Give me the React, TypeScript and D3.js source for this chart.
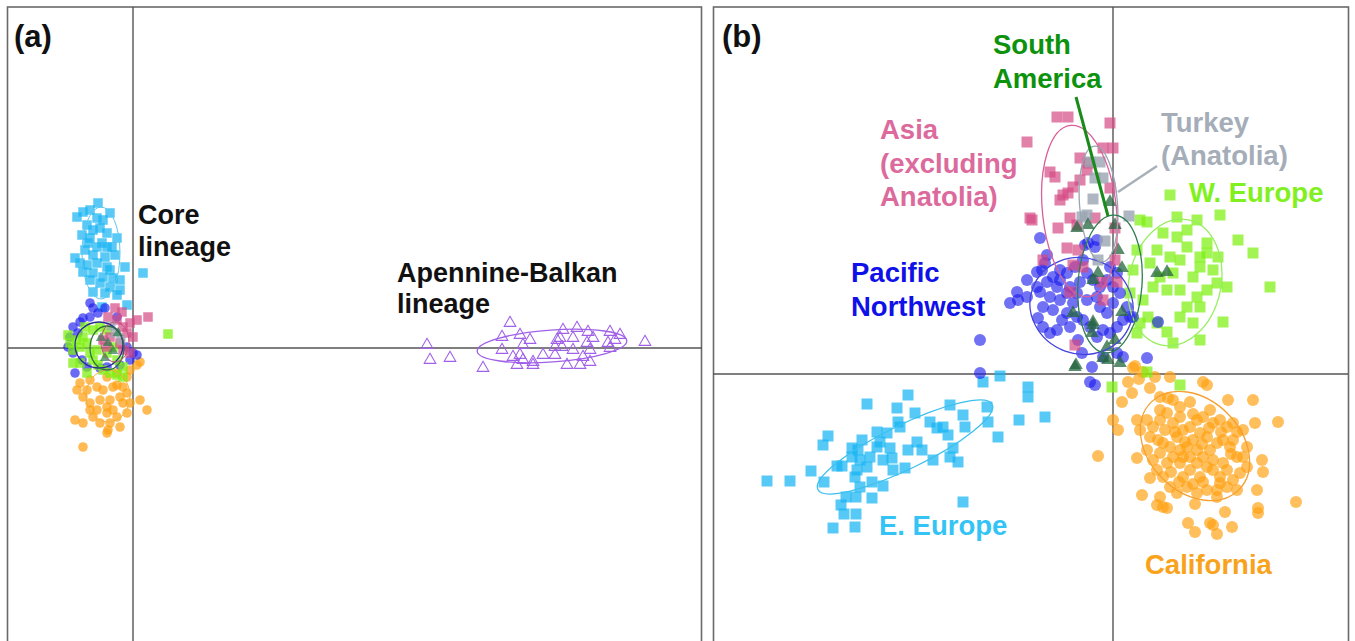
import React from 'react';
import * as d3 from 'd3';

const W = 1355;
const H = 641;
const FONT = '"Liberation Sans", Arial, sans-serif';

// ---- panel (b): scores for each region (PC1, PC2) ----
const eEurope = [
  [-34.6, -10.7], [-32.3, -10.7], [-30.2, -9.7], [-28.9, -10.8], [-28.5, -6.2], [-29.0, -7.1],
  [-27.6, -9.2], [-27.1, -9.2], [-26.7, -12.3], [-27.2, -13.1], [-26.9, -14.0], [-25.7, -14.0],
  [-28.0, -15.4], [-25.8, -15.3], [-25.7, -12.3], [-24.6, -3.0], [-25.1, -6.6], [-26.1, -7.4],
  [-25.5, -7.6], [-25.3, -8.6], [-25.6, -9.6], [-25.8, -10.3], [-25.3, -11.3], [-24.1, -10.8],
  [-24.1, -12.4], [-23.0, -11.2], [-23.6, -5.8], [-23.3, -6.8], [-22.6, -5.9], [-22.3, -7.4],
  [-23.0, -8.6], [-22.1, -8.4], [-22.0, -9.6], [-20.8, -9.4], [-21.5, -4.8], [-21.3, -5.3],
  [-20.5, -2.1], [-21.6, -3.4], [-19.8, -3.9], [-20.5, -7.6], [-19.6, -6.8], [-19.1, -7.6],
  [-18.0, -8.6], [-18.3, -4.8], [-17.6, -5.4], [-17.0, -5.3], [-16.5, -6.1], [-16.3, -3.1],
  [-15.0, -4.1], [-14.8, -5.3], [-16.0, -7.4], [-15.5, -8.8], [-16.3, -8.3], [-15.0, -12.8],
  [-12.6, -3.3], [-12.5, -4.8], [-11.5, -6.3], [-11.3, -0.2], [-13.0, -0.8], [-9.4, -4.6],
  [-8.5, -1.3], [-8.5, -2.3], [-24.6, -9.3], [-23.6, -7.3], [-24.3, -8.3], [-26.1, -8.3],
  [-6.8, -4.3],
];

const california = [
  [2.2, 0.8], [5.7, -0.3], [9.0, -0.8], [9.4, -1.1], [0.0, -4.6], [0.5, -5.6], [-1.5, -8.2],
  [0.9, -2.8], [2.4, -4.6], [1.9, -1.9], [3.7, -1.4], [4.7, -2.3], [7.7, -2.8], [11.5, -2.6],
  [14.0, -2.6], [16.5, -4.8], [14.2, -4.9], [14.9, -8.6], [15.0, -9.8], [14.4, -11.6],
  [14.5, -13.4], [14.5, -13.9], [18.3, -12.8], [11.9, -15.3], [11.2, -13.8], [8.2, -13.0],
  [7.5, -14.9], [8.2, -15.8], [10.0, -15.1], [10.4, -16.0], [9.7, -14.9], [5.0, -13.3],
  [4.4, -13.1], [2.9, -12.1], [3.7, -10.4], [2.4, -8.4], [3.4, -7.6], [4.7, -12.3], [5.4, -13.4],
  [3.4, -4.6], [4.0, -5.3], [4.7, -4.6], [5.4, -3.9], [5.2, -5.6], [4.5, -6.6], [6.0, -4.9],
  [6.7, -4.3], [7.0, -5.6], [6.4, -6.3], [7.7, -5.3], [8.4, -4.6], [9.0, -4.3], [9.7, -3.6],
  [10.0, -4.9], [10.7, -4.6], [11.4, -5.3], [12.0, -4.9], [12.4, -5.8], [13.0, -5.6], [9.4, -6.3],
  [8.7, -5.9], [8.0, -6.6], [7.4, -7.3], [6.7, -7.6], [6.0, -8.3], [5.4, -8.9], [4.7, -7.9],
  [4.0, -8.6], [4.4, -9.6], [5.0, -10.3], [5.7, -11.3], [6.4, -11.9], [7.0, -10.3], [7.7, -9.6],
  [8.4, -8.9], [9.0, -8.3], [9.7, -7.6], [10.4, -6.9], [11.0, -6.6], [11.7, -7.3], [12.4, -8.3],
  [13.0, -8.3], [13.4, -9.3], [12.7, -9.9], [12.0, -10.6], [11.4, -11.3], [12.4, -11.6],
  [10.7, -10.3], [10.0, -9.6], [9.4, -9.3], [8.7, -10.3], [8.0, -11.0], [7.4, -11.3], [8.4, -11.9],
  [9.4, -11.6], [10.4, -11.6], [10.7, -10.9], [6.7, -8.9], [7.0, -8.3], [5.7, -7.3], [5.0, -6.9],
  [7.7, -8.3], [8.4, -7.6], [10.0, -8.6], [11.0, -8.9], [11.4, -9.6], [3.7, -6.3], [2.7, -5.6],
  [10.4, -12.3], [6.7, -3.3], [6.0, -2.6], [5.5, -2.4], [4.7, -3.6], [12.0, -6.6], [13.4, -7.3],
  [2.0, 0.6], [3.0, 0.2], [4.2, -0.3], [2.6, -0.5], [1.5, -0.8],
  [6.2, -5.8], [8.0, -4.0], [9.6, -5.4], [7.2, -6.8], [5.8, -9.8], [9.0, -10.8], [11.8, -8.0],
  [6.6, -10.8], [10.8, -5.8], [8.9, -7.0],
];

const wEurope = [
  [5.7, 17.9], [10.7, 15.9], [12.5, 13.4], [14.0, 12.1], [15.7, 8.7], [11.0, 5.2], [8.7, 3.4],
  [6.0, 3.1], [2.7, 15.4], [3.4, 15.2], [2.4, 12.4], [2.0, 10.4], [1.7, 8.1], [3.0, 7.4],
  [3.5, 5.7], [4.4, 5.1], [5.4, 4.2], [6.7, 5.7], [7.4, 6.7], [8.4, 7.7], [9.4, 8.4], [10.4, 9.1],
  [10.0, 10.4], [8.7, 11.7], [7.4, 12.7], [6.4, 13.7], [5.0, 14.1], [4.4, 12.4], [3.7, 11.1],
  [5.7, 11.7], [6.7, 11.4], [6.0, 10.1], [4.7, 9.7], [4.0, 8.7], [5.4, 8.4], [6.7, 8.4],
  [8.0, 9.7], [8.7, 10.7], [9.4, 12.1], [8.4, 15.4], [6.4, 15.7], [7.4, 14.4], [9.4, 13.1],
  [10.5, 11.7], [11.4, 8.7], [8.7, 6.7], [8.0, 5.1], [2.7, 5.1], [2.4, 4.1], [-0.1, -1.3],
  [3.4, 0.2], [6.7, -1.1],
];

const pacificNW = [
  [-7.3, 13.6], [-6.6, 11.9], [-6.8, 11.1], [-7.1, 10.4], [-7.6, 10.2], [-8.6, 9.4], [-9.6, 8.2],
  [-10.3, 7.1], [-9.5, 7.4], [-8.6, 7.7], [-7.6, 8.7], [-7.3, 8.2], [-6.6, 9.2], [-6.0, 9.7],
  [-5.3, 10.4], [-4.6, 10.1], [-5.6, 8.7], [-6.3, 7.7], [-7.0, 6.7], [-7.5, 5.6], [-7.0, 4.7],
  [-6.3, 4.1], [-5.6, 4.4], [-5.1, 5.4], [-4.6, 6.1], [-4.0, 7.1], [-3.6, 8.1], [-4.3, 8.7],
  [-3.3, 9.2], [-2.6, 10.1], [-2.5, 13.1], [-1.8, 12.7], [-1.6, 13.4], [-2.8, 12.9], [-2.0, 9.4],
  [-1.3, 8.7], [-0.6, 9.4], [0.0, 8.7], [0.7, 8.1], [1.4, 6.7], [1.7, 5.7], [1.0, 5.4], [0.4, 4.7],
  [-0.3, 4.1], [-1.0, 4.4], [-1.6, 3.7], [-2.3, 4.7], [-3.0, 5.4], [-3.6, 5.7], [-4.3, 4.7],
  [-3.5, 3.4], [-3.1, 2.1], [-2.1, 0.7], [-1.0, 1.7], [0.4, 2.1], [1.0, 1.7], [2.0, 5.7],
  [3.4, 1.6], [4.5, 5.2], [-13.3, 3.4], [-13.3, 0.1], [-1.8, -1.1], [-6.0, 6.4], [-5.3, 7.4],
  [-2.6, 7.4], [-1.3, 6.7], [-0.6, 6.1], [0.0, 7.1], [-1.6, 7.7], [-5.3, 9.4], [-4.6, 8.1],
  [-3.8, 10.7], [-3.0, 11.4], [0.4, 10.1], [-0.3, 10.7], [-2.3, -0.8],
];

const asia = [
  [-5.6, 25.7], [-4.5, 25.7], [-0.3, 25.1], [-8.6, 23.2], [-6.3, 20.2], [-5.8, 19.7], [-3.3, 21.6],
  [-2.6, 20.4], [-1.0, 22.6], [0.0, 22.6], [-4.0, 18.7], [-4.5, 18.1], [-3.3, 19.4], [-5.3, 17.4],
  [-0.3, 18.6], [-2.5, 21.1], [-5.0, 17.9], [-8.1, 15.4], [-5.5, 14.6], [-4.3, 15.6], [-3.6, 14.9],
  [-1.8, 15.6], [0.2, 14.6], [-4.6, 12.6], [-3.5, 12.4], [-7.0, 11.4], [-3.0, 10.7], [-4.0, 10.9],
  [0.2, 11.4], [-1.1, 9.2], [0.4, 9.2], [-1.0, 7.4], [-3.8, 2.9], [-4.3, 8.2], [-8.3, 15.6],
];

const turkey = [
  [-2.3, 21.2], [-1.3, 21.2], [-1.0, 19.6], [-1.8, 19.6], [-3.1, 15.7], [-2.6, 15.9], [1.6, 15.8],
  [-1.5, 11.4], [-0.8, 13.3], [-2.0, 17.5],
];

const southAmerica = [
  [-0.3, 17.2], [-2.5, 14.9], [-3.6, 14.6], [0.2, 14.9], [0.5, 12.4], [0.9, 10.6], [-1.5, 10.1],
  [-2.0, 9.4], [-4.0, 6.1], [-2.0, 5.2], [-2.1, 4.1], [-3.8, 0.7], [-1.0, 1.6], [0.7, 1.1],
  [5.4, 10.2], [4.4, 10.1], [-0.6, 2.7], [0.9, 6.2], [-2.0, 4.9],
  [-3.7, 0.9], [-0.5, 1.4], [0.2, 3.4],
];

// ---- panel (a): core lineage vs Apennine-Balkan lineage ----
const aEEurope = [
  [-3.5, 14.5], [-4.3, 13.8], [-5.6, 13.1], [-5.0, 13.6], [-2.3, 13.5], [-3.6, 13.0], [-3.0, 12.8],
  [-4.6, 12.3], [-4.0, 11.8], [-3.3, 12.0], [-2.6, 11.5], [-1.6, 11.0], [-5.1, 11.3], [-4.3, 11.0],
  [-3.1, 10.5], [-2.1, 10.1], [-4.8, 9.8], [-5.8, 9.0], [-4.0, 9.3], [-2.8, 9.1], [-1.8, 9.3],
  [-4.6, 8.3], [-3.6, 8.5], [-2.6, 8.1], [-0.8, 8.1], [-5.0, 7.6], [-4.0, 7.5], [-3.0, 7.1],
  [-2.0, 7.0], [-4.3, 6.8], [-3.3, 6.5], [-2.3, 6.1], [-1.3, 5.8], [-4.0, 5.6], [-2.8, 5.5],
  [-1.6, 5.3], [1.0, 7.5], [-0.6, 4.3], [-3.1, 4.1], [-5.3, 8.5], [-4.5, 10.5], [-2.6, 10.1],
  [-3.6, 10.1], [-1.3, 6.8], [-2.3, 7.8],
];

const aAsia = [
  [-1.8, 4.0], [-1.1, 3.6], [0.4, 2.8], [1.5, 3.1], [-0.3, 2.5], [-1.0, 2.1], [-1.6, 2.8],
  [-2.5, 3.1], [-0.6, 1.5], [0.0, 1.1], [-2.3, 1.1], [-1.3, 0.5], [-2.6, 0.1], [-3.0, 0.8],
  [-0.3, -0.5], [-1.0, -0.2],
];

const aPacificNW = [
  [-4.3, 4.5], [-4.0, 4.0], [-5.0, 3.0], [-5.3, 2.6], [-6.0, 2.1], [-6.3, 1.1], [-6.5, 0.1],
  [-6.0, -0.5], [-5.8, -2.5], [0.0, -0.5], [0.4, -0.7], [-0.3, -1.2], [-2.8, 4.0], [-3.5, 3.5],
  [-4.3, 3.1], [-5.5, 1.5], [-2.6, -1.9], [-1.3, -1.7], [-0.6, 0.1], [-1.6, 3.1], [-5.1, -1.2],
  [-4.6, -1.9], [-3.3, -2.0],
];

const aWEurope = [
  [-6.5, 1.3], [-6.3, 0.5], [-6.0, -0.2], [-5.6, 0.8], [-5.3, 0.1], [-5.0, 1.1], [-4.6, 0.5],
  [-4.3, -0.5], [-4.0, -1.2], [-3.5, -1.7], [-3.0, -2.2], [-2.3, -2.5], [-1.6, -2.7], [-5.3, -1.5],
  [-4.6, -2.5], [-6.0, -1.5], [-1.6, -1.2], [-1.0, -1.9], [-3.3, 2.1], [-2.6, 1.8], [-4.0, 1.8],
  [3.5, 1.4], [-1.0, -2.9], [-4.8, 2.1], [-2.6, -0.5], [-2.0, 0.1], [-3.6, -0.2],
];

const aCalifornia = [
  [0.7, -1.4], [0.4, -1.7], [-0.3, -2.2], [-1.6, -2.5], [-2.6, -2.9], [-4.3, -3.2], [-5.3, -3.5],
  [-5.6, -4.2], [-5.0, -4.9], [-4.3, -5.5], [-3.6, -6.2], [-2.6, -6.5], [-1.6, -6.9], [-0.6, -6.5],
  [-0.3, -5.5], [-0.6, -4.5], [-1.0, -3.9], [-2.0, -3.9], [-3.0, -4.2], [-3.6, -3.9], [-3.3, -5.2],
  [-2.3, -5.2], [-1.3, -4.9], [-2.0, -6.2], [-4.0, -6.9], [-5.8, -7.2], [-5.0, -7.5], [-3.3, -7.5],
  [-2.5, -8.2], [-1.3, -7.9], [-2.6, -8.5], [-5.0, -9.9], [0.7, -5.2], [1.4, -6.2], [-0.6, -2.9],
  [-1.6, -3.7], [-4.6, -4.2], [-2.6, -5.9], [-4.3, -6.2], [-1.0, -5.5], [-2.3, -7.5],
];

const aTurkey = [[-1.8, 1.5], [-2.2, 2.2], [-1.2, 0.8]];
const aSouthAmerica = [[-2.5, 0.5], [-2.0, -0.3], [-3.2, 1.0], [-1.5, 1.5], [-2.8, -1.0]];

const apennineBalkan = [
  [37.7, 2.5], [36.9, 1.1], [38.7, 1.3], [39.7, 0.8], [39.0, 0.3], [36.9, -0.2], [38.0, -0.9],
  [38.7, -0.7], [39.0, -1.2], [38.4, -1.7], [40.0, -1.7], [41.0, -0.7], [42.2, -0.7], [42.4, 0.8],
  [42.7, 1.0], [43.0, 1.8], [44.4, 2.0], [45.5, 1.6], [44.0, 1.0], [42.9, 0.1], [44.0, -0.2],
  [45.4, 0.5], [45.7, -0.2], [45.0, -0.9], [44.7, -1.7], [43.4, -1.7], [45.7, -1.4], [47.7, 1.6],
  [48.7, 1.3], [47.5, 0.5], [48.2, 0.8], [51.2, 0.6], [29.4, 0.3], [29.7, -1.2], [31.7, -1.0],
  [35.0, -2.0], [40.0, -1.4], [46.0, 1.0], [42.2, 0.1], [47.7, 0.0],
];

type Pt = number[];
type Sc = d3.ScaleLinear<number, number>;

function Squares({ pts, x, y, s, fill, op }: { pts: Pt[]; x: Sc; y: Sc; s: number; fill: string; op: number }) {
  return (
    <g fill={fill} fillOpacity={op}>
      {pts.map((d, i) => (
        <rect key={i} x={x(d[0]) - s / 2} y={y(d[1]) - s / 2} width={s} height={s} />
      ))}
    </g>
  );
}

function Circles({ pts, x, y, r, fill, op }: { pts: Pt[]; x: Sc; y: Sc; r: number; fill: string; op: number }) {
  return (
    <g fill={fill} fillOpacity={op}>
      {pts.map((d, i) => (
        <circle key={i} cx={x(d[0])} cy={y(d[1])} r={r} />
      ))}
    </g>
  );
}

function Triangles({ pts, x, y, area, fill, op, stroke }: { pts: Pt[]; x: Sc; y: Sc; area: number; fill: string; op: number; stroke?: string }) {
  const path = d3.symbol().type(d3.symbolTriangle).size(area)() as string;
  return (
    <g fill={fill} fillOpacity={op} stroke={stroke || 'none'} strokeWidth={1.1}>
      {pts.map((d, i) => (
        <path key={i} d={path} transform={`translate(${x(d[0])},${y(d[1])})`} />
      ))}
    </g>
  );
}

function Ell({ x, y, c, rx, ry, rot, color, w }: { x: Sc; y: Sc; c: Pt; rx: number; ry: number; rot: number; color: string; w?: number }) {
  const cx = x(c[0]);
  const cy = y(c[1]);
  return (
    <ellipse cx={cx} cy={cy} rx={x(rx) - x(0)} ry={y(0) - y(ry)}
      transform={`rotate(${rot} ${cx} ${cy})`} fill="none" stroke={color} strokeWidth={w || 1.3} />
  );
}

function Label({ x, y, lines, color, size, gap }: { x: number; y: number; lines: string[]; color: string; size: number; gap: number }) {
  return (
    <text x={x} y={y} fill={color} fontFamily={FONT} fontWeight="bold" fontSize={size}>
      {lines.map((t, i) => (
        <tspan key={i} x={x} y={y + i * gap}>{t}</tspan>
      ))}
    </text>
  );
}

export default function App() {
  // panel (a)
  const xa = d3.scaleLinear().domain([-12.5, 56.9]).range([8, 702]);
  const ya = d3.scaleLinear().domain([-29.3, 34.1]).range([641, 7]);
  // panel (b)
  const xb = d3.scaleLinear().domain([-40, 23.5]).range([713, 1348]);
  const yb = d3.scaleLinear().domain([-26.7, 36.7]).range([641, 7]);

  const axis = '#555';
  const frame = '#6a6a6a';

  return (
    <svg width={W} height={H} style={{ position: 'absolute', left: 0, top: 0, background: '#fff' }}>
      <rect width={W} height={H} fill="#fff" />

      {/* ---------- panel (a) ---------- */}
      <rect x={xa(-12.5) - 0.5} y={7} width={xa(56.9) - xa(-12.5)} height={H} fill="none" stroke={frame} strokeWidth={1.6} />
      <line x1={xa(0)} x2={xa(0)} y1={7} y2={H} stroke={axis} strokeWidth={1.4} />
      <line x1={xa(-12.5)} x2={xa(56.9)} y1={ya(0)} y2={ya(0)} stroke={axis} strokeWidth={1.4} />

      <Squares pts={aEEurope} x={xa} y={ya} s={9.5} fill="#1ab4f2" op={0.72} />
      <Circles pts={aCalifornia} x={xa} y={ya} r={4.8} fill="#ffa010" op={0.72} />
      <Circles pts={aPacificNW} x={xa} y={ya} r={4.8} fill="#1a1aee" op={0.65} />
      <Squares pts={aWEurope} x={xa} y={ya} s={9.5} fill="#7ef010" op={0.75} />
      <Squares pts={aAsia} x={xa} y={ya} s={9.5} fill="#d44a85" op={0.7} />
      <Squares pts={aTurkey} x={xa} y={ya} s={9} fill="#9aa5b1" op={0.7} />
      <Triangles pts={aSouthAmerica} x={xa} y={ya} area={48} fill="#2e7d4f" op={0.7} />
      <Triangles pts={apennineBalkan} x={xa} y={ya} area={58} fill="none" op={0} stroke="#a060e8" />

      <Ell x={xa} y={ya} c={[-3.2, 9.5]} rx={1.9} ry={4.6} rot={0} color="#5cc8f0" w={1} />
      <Ell x={xa} y={ya} c={[-2.5, -4.8]} rx={2.2} ry={2.6} rot={0} color="#f5b040" w={1} />
      <Ell x={xa} y={ya} c={[-3.4, 0.3]} rx={2.4} ry={2.3} rot={0} color="#2a2a9a" />
      <Ell x={xa} y={ya} c={[-2.6, 0.0]} rx={1.7} ry={2.2} rot={0} color="#2e6e48" />
      <Ell x={xa} y={ya} c={[-1.8, 0.6]} rx={1.4} ry={2.0} rot={0} color="#c05080" w={1} />
      <Ell x={xa} y={ya} c={[41.9, 0.2]} rx={7.5} ry={1.6} rot={-4} color="#a060e8" />

      <text x={14} y={47} fontFamily={FONT} fontWeight="bold" fontSize={31} fill="#111">(a)</text>
      <Label x={138} y={224} lines={['Core', 'lineage']} color="#111" size={27} gap={32} />
      <Label x={397} y={282} lines={['Apennine-Balkan', 'lineage']} color="#111" size={27} gap={31} />

      {/* ---------- panel (b) ---------- */}
      <rect x={xb(-40) + 0.5} y={7} width={xb(23.5) - xb(-40)} height={H} fill="none" stroke={frame} strokeWidth={1.6} />
      <line x1={xb(0)} x2={xb(0)} y1={7} y2={H} stroke={axis} strokeWidth={1.4} />
      <line x1={xb(-40)} x2={xb(23.5)} y1={yb(0)} y2={yb(0)} stroke={axis} strokeWidth={1.4} />

      <Squares pts={eEurope} x={xb} y={yb} s={11} fill="#16b4f2" op={0.72} />
      <Circles pts={california} x={xb} y={yb} r={6} fill="#ffa010" op={0.68} />
      <Squares pts={wEurope} x={xb} y={yb} s={11} fill="#7ef010" op={0.72} />
      <Circles pts={pacificNW} x={xb} y={yb} r={6} fill="#1a1aee" op={0.62} />
      <Squares pts={asia} x={xb} y={yb} s={11} fill="#d44a85" op={0.7} />
      <Squares pts={turkey} x={xb} y={yb} s={11} fill="#9aa5b1" op={0.8} />
      <Triangles pts={southAmerica} x={xb} y={yb} area={80} fill="#23663d" op={0.75} />

      <Ell x={xb} y={yb} c={[-20.8, -7.3]} rx={9.7} ry={2.2} rot={-26} color="#3cc0f0" />
      <Ell x={xb} y={yb} c={[8.2, -7.2]} rx={6.2} ry={4.6} rot={45} color="#f5a030" />
      <Ell x={xb} y={yb} c={[6.2, 9.15]} rx={4.6} ry={6.4} rot={12} color="#98ee60" />
      <Ell x={xb} y={yb} c={[-3.15, 6.8]} rx={5.2} ry={4.8} rot={20} color="#4444dd" />
      <Ell x={xb} y={yb} c={[-3.35, 16.3]} rx={3.7} ry={8.6} rot={-6} color="#d8609a" />
      <Ell x={xb} y={yb} c={[-1.45, 17.0]} rx={1.9} ry={5.8} rot={-4} color="#9aa5b1" />
      <Ell x={xb} y={yb} c={[-0.3, 9.0]} rx={3.2} ry={6.9} rot={4} color="#2e7d4f" />

      <line x1={xb(-3.7)} y1={yb(27.7)} x2={xb(-0.5)} y2={yb(15.8)} stroke="#1a8a1a" strokeWidth={3} />
      <line x1={xb(4.4)} y1={yb(20.8)} x2={xb(0.5)} y2={yb(18.2)} stroke="#a8b0ba" strokeWidth={2.5} />

      <text x={722} y={47} fontFamily={FONT} fontWeight="bold" fontSize={31} fill="#111">(b)</text>
      <Label x={993} y={54} lines={['South', 'America']} color="#0c920c" size={27.5} gap={34} />
      <Label x={880} y={139} lines={['Asia', '(excluding', 'Anatolia)']} color="#dc6a9c" size={27.5} gap={33.5} />
      <Label x={1161} y={132} lines={['Turkey', '(Anatolia)']} color="#a4adb8" size={27.5} gap={33} />
      <Label x={1189} y={202} lines={['W. Europe']} color="#80f020" size={27.5} gap={0} />
      <Label x={851} y={282} lines={['Pacific', 'Northwest']} color="#1010e8" size={27.5} gap={34} />
      <Label x={879} y={535} lines={['E. Europe']} color="#33c4f5" size={27.5} gap={0} />
      <Label x={1145} y={574} lines={['California']} color="#f9a21b" size={27.5} gap={0} />
    </svg>
  );
}
